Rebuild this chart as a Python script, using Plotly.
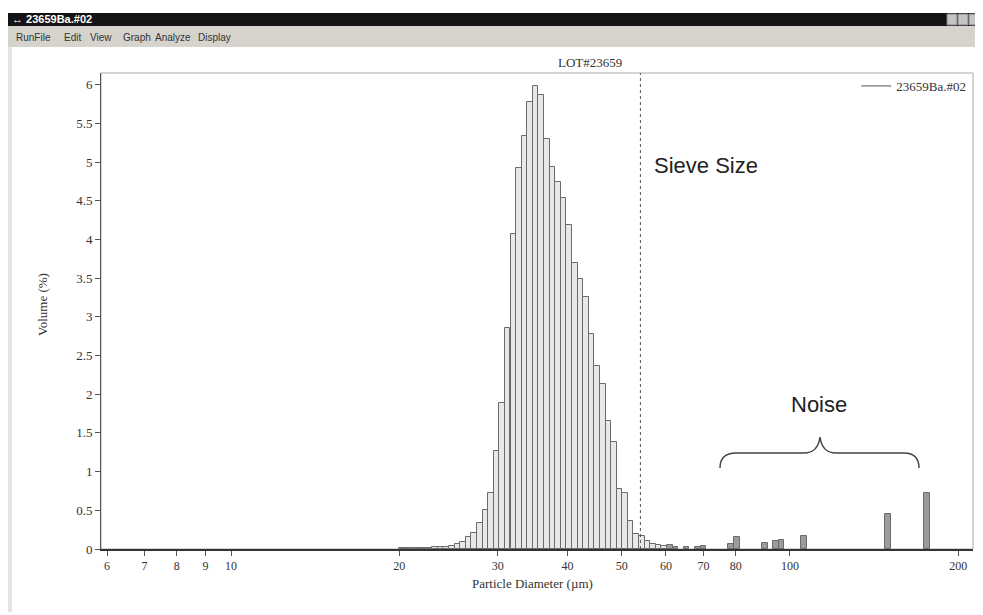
import plotly.graph_objects as go

# ---------------- data ----------------
# bin centre diameters (µm) of the plotted channels
diameter_um = [
    20.18, 20.65, 21.13, 21.63, 22.13, 22.65,
    23.17, 23.71, 24.27, 24.83, 25.41, 26.00, 26.61, 27.23, 27.86, 28.51,
    29.17, 29.85, 30.55, 31.26, 31.99, 32.73, 33.50, 34.28, 35.08, 35.89,
    36.73, 37.58, 38.46, 39.36, 40.27, 41.21, 42.17, 43.15, 44.16, 45.19,
    46.24, 47.32, 48.42, 49.55, 50.70, 51.88, 53.09, 54.33, 55.59, 56.89,
    58.21, 59.57, 60.95, 62.37,
    65.31, 68.39, 69.98, 78.52, 80.35, 90.16, 94.41, 96.61, 105.93,
    149.62, 175.79,
]
volume_pct = [
    0.01, 0.01, 0.01, 0.01, 0.01, 0.01,
    0.02, 0.02, 0.03, 0.04, 0.06, 0.09, 0.15, 0.21, 0.34, 0.51,
    0.73, 1.27, 1.89, 2.86, 4.07, 4.92, 5.34, 5.77, 5.98, 5.86,
    5.30, 4.93, 4.74, 4.53, 4.18, 3.69, 3.49, 3.25, 2.78, 2.37,
    2.13, 1.66, 1.38, 0.78, 0.73, 0.36, 0.19, 0.17, 0.10, 0.06,
    0.05, 0.04, 0.05, 0.03,
    0.03, 0.03, 0.04, 0.06, 0.15, 0.08, 0.10, 0.12, 0.17,
    0.45, 0.72,
]
sieve_size_um = 54
x_tick_values = [6, 7, 8, 9, 10, 20, 30, 40, 50, 60, 70, 80, 100, 200]
x_tick_labels = ["6", "7", "8", "9", "10", "20", "30", "40", "50", "60", "70", "80", "100", "200"]
y_tick_values = [0, 0.5, 1, 1.5, 2, 2.5, 3, 3.5, 4, 4.5, 5, 5.5, 6]
y_tick_labels = ["0", "0.5", "1", "1.5", "2", "2.5", "3", "3.5", "4", "4.5", "5", "5.5", "6"]
series_name = "23659Ba.#02"
chart_title = "LOT#23659"
menu_items = ["RunFile", "Edit", "View", "Graph", "Analyze", "Display"]

# ---------------- geometry helpers ----------------
OFF = 8                                  # default page margin around the plot div
W, H = 983 - OFF, 615 - OFF
L, R, T, B = 101, 973, 73, 549          # plot area in screenshot pixels
PW, PH = R - L, B - T


def px(x):
    return (x - L) / PW


def py(y):
    return (B - y) / PH


# bar width: one logarithmic channel (0.01 decade) expressed in data units
half = 10 ** 0.005 - 10 ** -0.005
bar_widths = [d * half for d in diameter_um]
bar_fill = ["#e8e8e8" if d < 60 else "#9c9c9c" for d in diameter_um]

SERIF = "Liberation Serif"
SANS = "Liberation Sans"
TXT = "#333333"

fig = go.Figure()
fig.add_trace(go.Bar(
    x=diameter_um, y=volume_pct, width=bar_widths,
    marker=dict(color=bar_fill, line=dict(color="#6a6a6a", width=1)),
    showlegend=False, hoverinfo="x+y",
))
fig.add_trace(go.Scatter(
    x=[sieve_size_um, sieve_size_um], y=[0, 6.15], mode="lines",
    line=dict(color="#555555", width=1, dash="dot"), showlegend=False,
))
fig.add_trace(go.Scatter(
    x=[None], y=[None], mode="lines", name=series_name,
    line=dict(color="#555555", width=1),
))


def P(x, y):
    return f"{px(x):.5f},{py(y):.5f}"


brace = (f"M {P(720,468)} Q {P(720,453)} {P(736,453)} L {P(804,453)} "
         f"Q {P(818,453)} {P(820,437)} Q {P(822,453)} {P(836,453)} "
         f"L {P(904,453)} Q {P(919,453)} {P(919,468)}")

shapes = [
    dict(type="rect", xref="paper", yref="paper", x0=0, x1=1, y0=0, y1=1,
         line=dict(color="#a8a8a8", width=1), layer="below"),
    dict(type="path", xref="paper", yref="paper", path=brace,
         line=dict(color="#444444", width=1.5)),
    # window title bar
    dict(type="rect", xref="paper", yref="paper", x0=px(5), x1=px(983), y0=py(26), y1=py(13),
         fillcolor="#141414", line=dict(width=0), layer="below"),
    # menu bar
    dict(type="rect", xref="paper", yref="paper", x0=px(5), x1=px(983), y0=py(47), y1=py(26),
         fillcolor="#d6d3cc", line=dict(width=0), layer="below"),
    # left gray border
    dict(type="rect", xref="paper", yref="paper", x0=px(8), x1=px(12), y0=py(612), y1=py(47),
         fillcolor="#e4e4e4", line=dict(width=0), layer="below"),
]
for bx in (947, 958, 969):
    shapes.append(dict(type="rect", xref="paper", yref="paper", x0=px(bx), x1=px(bx + 10),
                       y0=py(25), y1=py(14), fillcolor="#c4c4c4",
                       line=dict(color="#808080", width=1)))

menu_x = [14, 62, 88, 121, 153, 196]
annotations = [
    dict(text=chart_title, x=px(590), y=py(62), xref="paper", yref="paper",
         showarrow=False, font=dict(family=SERIF, size=13, color=TXT),
         xanchor="center", yanchor="middle"),
    dict(text="Sieve Size", x=px(652), y=py(165), xref="paper", yref="paper",
         showarrow=False, font=dict(family=SANS, size=22, color="#222222"),
         xanchor="left", yanchor="middle"),
    dict(text="Noise", x=px(819), y=py(404), xref="paper", yref="paper",
         showarrow=False, font=dict(family=SANS, size=22, color="#222222"),
         xanchor="center", yanchor="middle"),
    dict(text="Volume (%)", x=px(42), y=py(305), xref="paper", yref="paper",
         showarrow=False, textangle=-90, font=dict(family=SERIF, size=13, color=TXT),
         xanchor="center", yanchor="middle"),
    dict(text="Particle Diameter (µm)", x=px(532), y=py(583), xref="paper", yref="paper",
         showarrow=False, font=dict(family=SERIF, size=13, color=TXT),
         xanchor="center", yanchor="middle"),
    dict(text="<b>↔ " + series_name + "</b>", x=px(10), y=py(19.5), xref="paper", yref="paper",
         showarrow=False, font=dict(family=SANS, size=11, color="#ffffff"),
         xanchor="left", yanchor="middle"),
]
for name, mx in zip(menu_items, menu_x):
    annotations.append(dict(text=name, x=px(mx), y=py(37), xref="paper", yref="paper",
                            showarrow=False, font=dict(family=SANS, size=10, color=TXT),
                            xanchor="left", yanchor="middle"))

fig.update_layout(
    width=W, height=H,
    margin=dict(l=L - OFF, r=983 - R, t=T - OFF, b=615 - B, pad=0),
    paper_bgcolor="#ffffff", plot_bgcolor="#ffffff",
    bargap=0,
    shapes=shapes, annotations=annotations,
    showlegend=True,
    legend=dict(x=0.998, xanchor="right", y=py(86), yanchor="middle",
                bgcolor="rgba(0,0,0,0)", font=dict(family=SERIF, size=13, color=TXT),
                itemwidth=30),
    xaxis=dict(type="log", range=[0.7674, 2.3274], tickvals=x_tick_values, ticktext=x_tick_labels,
               ticks="outside", ticklen=5, tickcolor="#555555", showgrid=False, zeroline=False,
               showline=True, linecolor="#333333", linewidth=2,
               tickfont=dict(family=SERIF, size=12, color=TXT)),
    yaxis=dict(range=[0, 6.15], tickvals=y_tick_values, ticktext=y_tick_labels,
               ticks="outside", ticklen=5, tickcolor="#555555", showgrid=False, zeroline=False,
               showline=True, linecolor="#555555", linewidth=1,
               tickfont=dict(family=SERIF, size=13, color=TXT)),
)

fig.write_html("out.html")
